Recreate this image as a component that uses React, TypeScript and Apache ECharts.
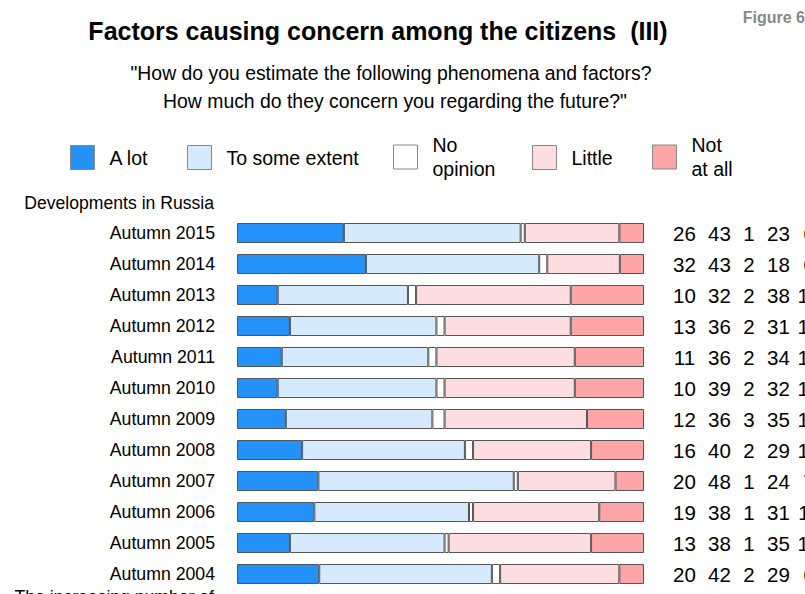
import React, { useEffect, useRef } from "react";
import * as echarts from "echarts";

const categories = [
  "Autumn 2015", "Autumn 2014", "Autumn 2013", "Autumn 2012", "Autumn 2011", "Autumn 2010",
  "Autumn 2009", "Autumn 2008", "Autumn 2007", "Autumn 2006", "Autumn 2005", "Autumn 2004",
];
const seriesNames = ["A lot", "To some extent", "No\nopinion", "Little", "Not\nat all"];
const aLot = [26, 32, 10, 13, 11, 10, 12, 16, 20, 19, 13, 20];
const someExtent = [43, 43, 32, 36, 36, 39, 36, 40, 48, 38, 38, 42];
const noOpinion = [1, 2, 2, 2, 2, 2, 3, 2, 1, 1, 1, 2];
const little = [23, 18, 38, 31, 34, 32, 35, 29, 24, 31, 35, 29];
const notAtAll = [6, 6, 18, 18, 17, 17, 14, 13, 7, 11, 13, 6];
const colors = ["#2492f9", "#d6eafd", "#ffffff", "#fedde0", "#fea5a8"];

export default function App() {
  const ref = useRef<HTMLDivElement>(null);
  useEffect(() => {
    if (!ref.current) return;
    const chart = echarts.init(ref.current, undefined, { renderer: "svg" });
    const all = [aLot, someExtent, noOpinion, little, notAtAll];
    const totals = categories.map((_, r) => all.reduce((s, a) => s + a[r], 0));
    const font = "Liberation Sans, Arial, sans-serif";
    const legendX = [70, 187, 393, 532, 652];
    const num = { align: "center", fontSize: 20.5, color: "#000", fontFamily: font };
    chart.setOption({
      animation: false,
      textStyle: { fontFamily: font },
      grid: { left: 237, width: 407, top: 217.5, height: 372, outerBoundsMode: "none", containLabel: false },
      xAxis: { type: "value", min: 0, max: 100, show: false },
      yAxis: [
        {
          type: "category",
          data: categories,
          inverse: true,
          axisLine: { show: false },
          axisTick: { show: false },
          axisLabel: { fontSize: 17.7, color: "#000", margin: 22, fontFamily: font },
        },
        {
          type: "category",
          data: categories,
          inverse: true,
          position: "right",
          axisLine: { show: false },
          axisTick: { show: false },
          axisLabel: {
            margin: 23,
            fontFamily: font,
            formatter: (_v: string, i: number) =>
              `{a|${aLot[i]}}{b|${someExtent[i]}}{c|${noOpinion[i]}}{d|${little[i]}}{e|${notAtAll[i]}}`,
            rich: {
              a: { ...num, width: 35 },
              b: { ...num, width: 35 },
              c: { ...num, width: 24 },
              d: { ...num, width: 35 },
              e: { ...num, width: 26, align: "left" },
            },
          },
        },
      ],
      legend: seriesNames.map((n, i) => ({
        data: [n],
        left: legendX[i],
        top: n.includes("\n") ? 133 : 145,
        padding: 0,
        itemWidth: 24,
        itemHeight: 24,
        icon: "rect",
        itemStyle: { borderColor: "#888", borderWidth: 1 },
        textStyle: {
          fontSize: 19.5,
          color: "#000",
          fontFamily: font,
          padding: [0, 0, 0, 10],
          lineHeight: 24,
        },
        selectedMode: false,
      })),
      series: all.map((arr, i) => ({
        type: "bar",
        name: seriesNames[i],
        stack: "total",
        barWidth: 20,
        data: arr.map((v, r) => (v / totals[r]) * 100),
        itemStyle: { color: colors[i], borderColor: "#555", borderWidth: 1 },
      })),
      graphic: [
        {
          type: "text", x: 378, y: 31,
          style: { text: "Factors causing concern among the citizens  (III)", font: `bold 25px ${font}`, fill: "#000", textAlign: "center", textVerticalAlign: "middle" },
        },
        {
          type: "text", x: 805, y: 17,
          style: { text: "Figure 6", font: `bold 16px ${font}`, fill: "#888", textAlign: "right", textVerticalAlign: "middle" },
        },
        {
          type: "text", x: 391, y: 73,
          style: { text: "\"How do you estimate the following phenomena and factors?", font: `19.4px ${font}`, fill: "#000", textAlign: "center", textVerticalAlign: "middle" },
        },
        {
          type: "text", x: 395, y: 101,
          style: { text: "How much do they concern you regarding the future?\"", font: `19.4px ${font}`, fill: "#000", textAlign: "center", textVerticalAlign: "middle" },
        },
        {
          type: "text", x: 214, y: 203,
          style: { text: "Developments in Russia", font: `17.6px ${font}`, fill: "#000", textAlign: "right", textVerticalAlign: "middle" },
        },
        {
          type: "text", x: 214, y: 597,
          style: { text: "The increasing number of", font: `17.6px ${font}`, fill: "#000", textAlign: "right", textVerticalAlign: "middle" },
        },
      ],
    });
    return () => chart.dispose();
  }, []);
  return (
    <div
      ref={ref}
      style={{ position: "fixed", left: 0, top: 0, width: 805, height: 594, background: "#fff" }}
    />
  );
}
